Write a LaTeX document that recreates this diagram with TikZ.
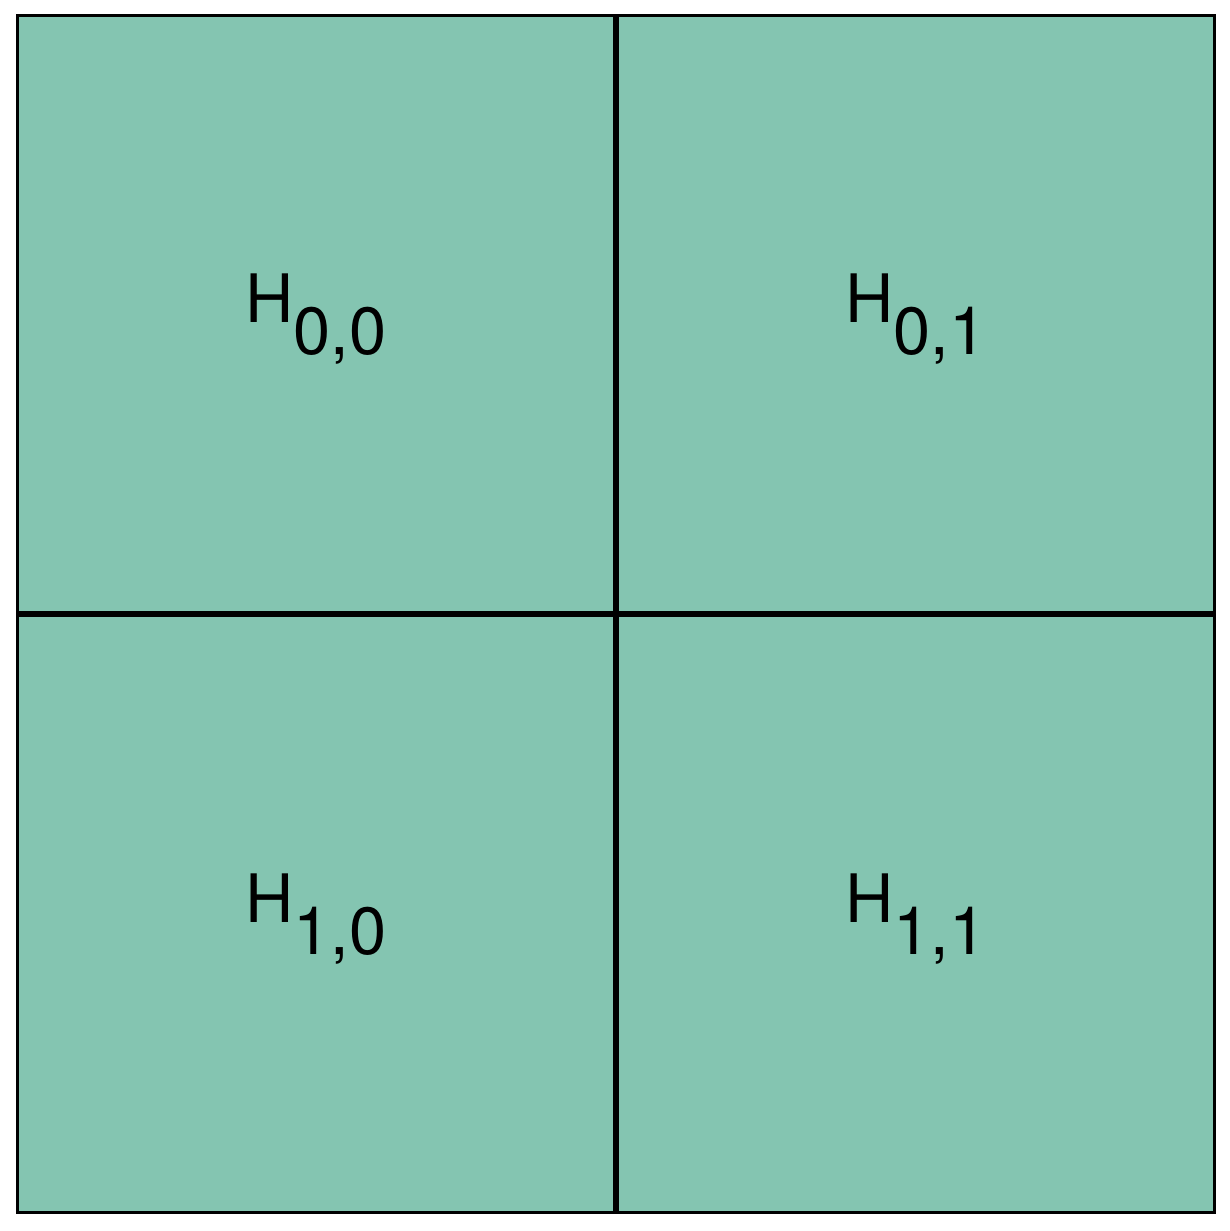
\documentclass[tikz,border=0pt]{standalone}
\usepackage{fontspec}
\setmainfont{TeX Gyre Heros}
\usepackage{xcolor}
\usetikzlibrary{positioning}
\definecolor{cellgreen}{HTML}{84C5B1}
\tikzset{
  cell/.style={draw, fill=cellgreen, line width=0.85pt, minimum size=5.97cm,
               inner sep=0pt, font=\fontsize{19}{23}\selectfont},
}
\newcommand{\hsub}[1]{\raisebox{-0.05cm}[\height][\depth]{H\raisebox{-0.32cm}{#1}}}

\begin{document}
\begin{tikzpicture}
  \useasboundingbox (0,0) rectangle (12.29,12.31);
  \node[cell] (h00) at (3.16,9.17) {\hsub{0,0}};
  \node[cell, right=0pt of h00] (h01) {\hsub{0,1}};
  \node[cell, below=0pt of h00] (h10) {\hsub{1,0}};
  \node[cell, right=0pt of h10] (h11) {\hsub{1,1}};
\end{tikzpicture}
\end{document}
